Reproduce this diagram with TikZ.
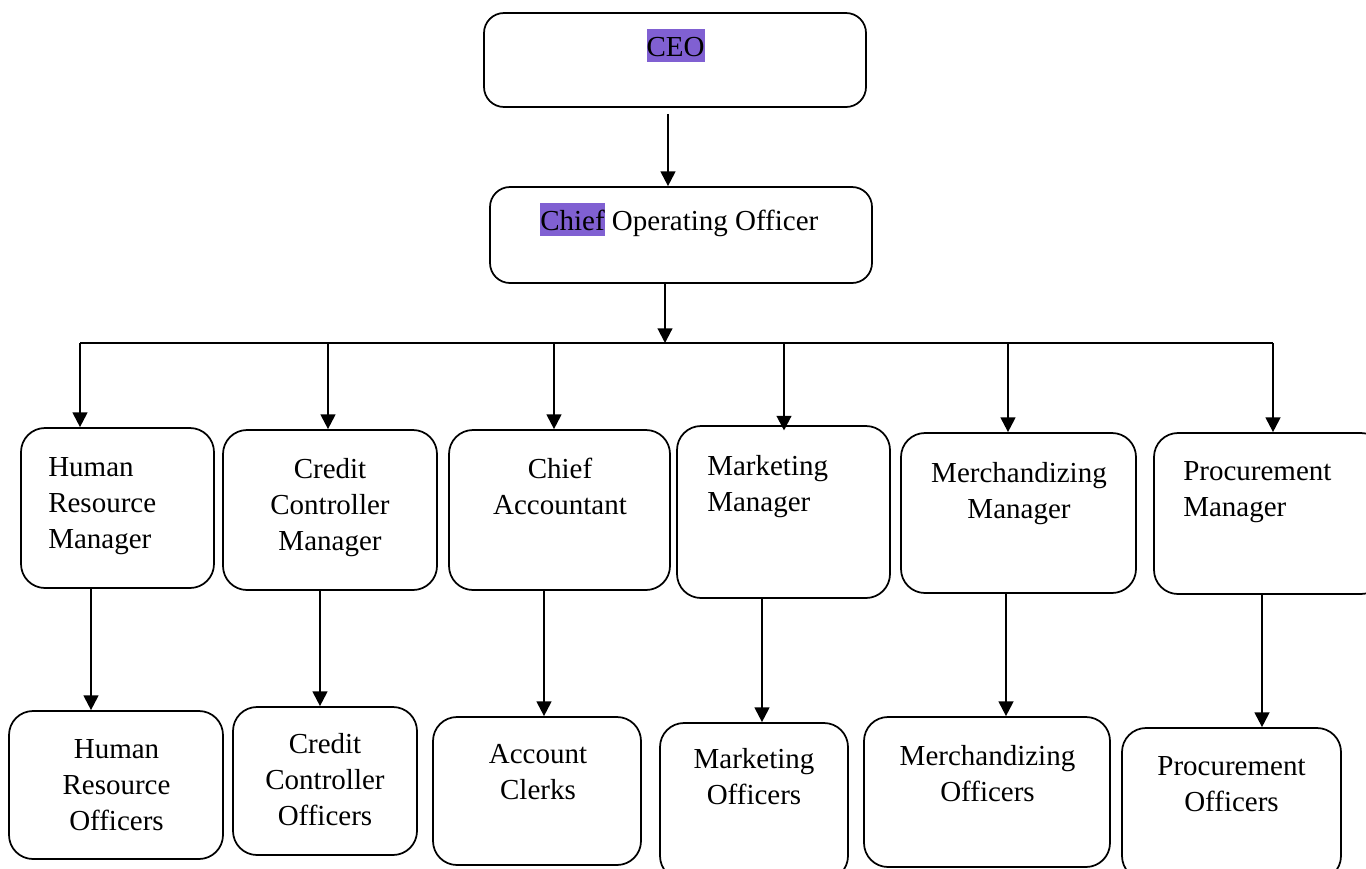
\documentclass[tikz,border=0pt]{standalone}
\usepackage{fontspec}
\setmainfont{Liberation Serif}
\usetikzlibrary{fit,arrows.meta}
\definecolor{hilite}{RGB}{128,96,210}
\newcommand{\fst}{\rule{0pt}{20pt}}
\newcommand{\hl}[1]{{\setlength{\fboxsep}{0pt}\colorbox{hilite}{\rule[-4.5pt]{0pt}{24.75pt}#1}}}
\tikzset{
  box/.style={draw, line width=1.3pt, rounded corners=18pt, inner sep=0pt},
  topbox/.style={box, rounded corners=15pt},
  txt/.style={inner sep=0pt, font=\fontsize{21.75}{27}\selectfont},
  arr/.style={line width=1.6pt, -{Triangle[length=11pt,width=11pt]}},
  bus/.style={line width=1.3pt}
}
\begin{document}
\begin{tikzpicture}[x=0.75pt,y=-0.75pt]
\useasboundingbox (0,0) rectangle (1366,868);
% boxes
\node[topbox, fit={(484,13) (866,107)}] (ceo) {};
\node[topbox, fit={(490,187) (872,283)}] (coo) {};
\node[box, fit={(21,428) (214,588)}] (hrm) {};
\node[box, fit={(223,430) (437,590)}] (ccm) {};
\node[box, fit={(449,430) (670,590)}] (ca) {};
\node[box, fit={(677,426) (890,598)}] (mm) {};
\node[box, fit={(901,433) (1136,593)}] (mem) {};
\node[box, fit={(1154,433) (1385,594)}] (pm) {};
\node[box, fit={(9,711) (223,859)}] (hro) {};
\node[box, fit={(233,707) (417,855)}] (cco) {};
\node[box, fit={(433,717) (641,865)}] (ac) {};
\node[box, fit={(660,723) (848,880)}] (mo) {};
\node[box, fit={(864,717) (1110,867)}] (meo) {};
\node[box, fit={(1122,728) (1341,880)}] (po) {};
% texts
\node[txt, anchor=base] (tceo) at (675.5,56) {\hl{CEO}};
\node[txt, anchor=base west] (tcoo) at (540,230) {\hl{Chief} Operating Officer};
\node[txt, anchor=north west, align=left] (thrm) at (48,449.3) {\fst Human\\Resource\\Manager};
\node[txt, anchor=north, align=center] (tccm) at (330,451.3) {\fst Credit\\Controller\\Manager};
\node[txt, anchor=north, align=center] (tca) at (560,451.3) {\fst Chief\\Accountant};
\node[txt, anchor=north west, align=left] (tmm) at (707,448.3) {\fst Marketing\\Manager};
\node[txt, anchor=north, align=center] (tmem) at (1019,455.3) {\fst Merchandizing\\Manager};
\node[txt, anchor=north west, align=left] (tpm) at (1183,453.8) {\fst Procurement\\Manager};
\node[txt, anchor=north, align=center] (thro) at (116.5,731.3) {\fst Human\\Resource\\Officers};
\node[txt, anchor=north, align=center] (tcco) at (325,726.3) {\fst Credit\\Controller\\Officers};
\node[txt, anchor=north, align=center] (tac) at (538,736.3) {\fst Account\\Clerks};
\node[txt, anchor=north, align=center] (tmo) at (754,741.3) {\fst Marketing\\Officers};
\node[txt, anchor=north, align=center] (tmeo) at (987.5,738.3) {\fst Merchandizing\\Officers};
\node[txt, anchor=north, align=center] (tpo) at (1231.5,748.3) {\fst Procurement\\Officers};
% coordinates
\coordinate (c0) at (668,0);
\coordinate (j) at (665,343);
\coordinate (b1) at (80,343);
\coordinate (b2) at (328,343);
\coordinate (b3) at (554,343);
\coordinate (b4) at (784,343);
\coordinate (b5) at (1008,343);
\coordinate (b6) at (1273,343);
\coordinate (v1) at (91,0);
\coordinate (v2) at (320,0);
\coordinate (v3) at (544,0);
\coordinate (v4) at (762,0);
\coordinate (v5) at (1006,0);
\coordinate (v6) at (1262,0);
% connectors
\draw[arr, shorten <=4.5pt] (c0 |- ceo.south) -- (c0 |- coo.north);
\draw[arr] (j |- coo.south) -- (j);
\draw[bus] (b1) -- (b6);
\draw[arr] (b1) -- (b1 |- hrm.north);
\draw[arr] (b2) -- (b2 |- ccm.north);
\draw[arr] (b3) -- (b3 |- ca.north);
\draw[arr] (b4) -- ([yshift=-4pt]b4 |- mm.north);
\draw[arr] (b5) -- (b5 |- mem.north);
\draw[arr] (b6) -- (b6 |- pm.north);
\draw[arr] (v1 |- hrm.south) -- (v1 |- hro.north);
\draw[arr] (v2 |- ccm.south) -- (v2 |- cco.north);
\draw[arr] (v3 |- ca.south) -- (v3 |- ac.north);
\draw[arr] (v4 |- mm.south) -- (v4 |- mo.north);
\draw[arr] (v5 |- mem.south) -- (v5 |- meo.north);
\draw[arr] (v6 |- pm.south) -- (v6 |- po.north);
\end{tikzpicture}
\end{document}
